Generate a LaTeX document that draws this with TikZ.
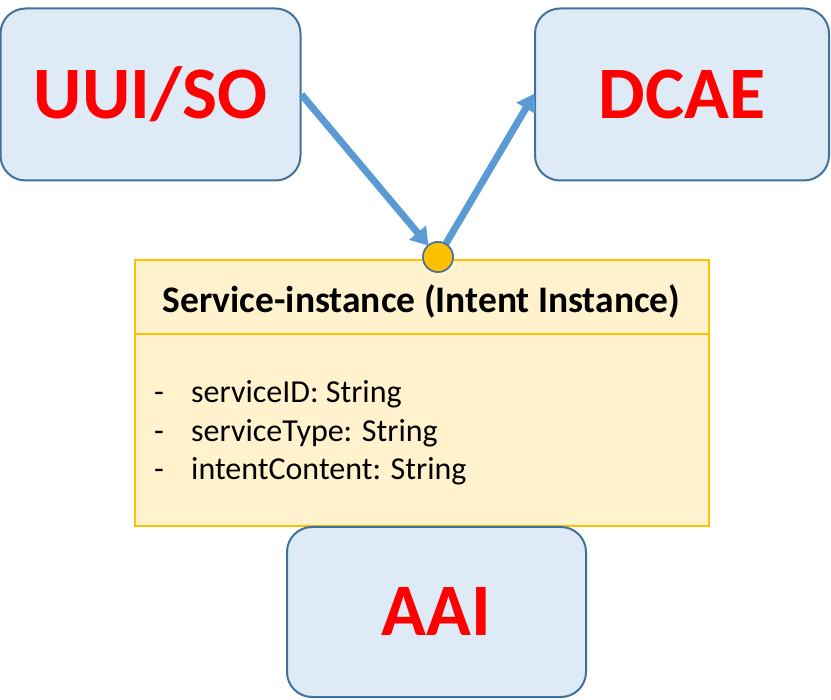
\documentclass[tikz,border=0pt]{standalone}
\usepackage{fontspec}
\setmainfont{Carlito}
\usetikzlibrary{arrows.meta}
\definecolor{compfill}{HTML}{DEEAF6}
\definecolor{compborder}{HTML}{41719C}
\definecolor{clsfill}{HTML}{FFF2CC}
\definecolor{clsborder}{HTML}{FFC000}
\definecolor{arrowblue}{HTML}{5B9BD5}
\definecolor{labelred}{HTML}{FF0000}
\tikzset{
  comp/.style={draw=compborder, fill=compfill, line width=2pt, rounded corners=25pt,
    minimum width=#1, minimum height=172pt, inner sep=0pt, text=labelred,
    font=\bfseries\fontsize{74}{74}\selectfont},
  cls/.style={draw=clsborder, fill=clsfill, line width=1.2pt, inner sep=0pt},
  flow/.style={draw=arrowblue, line width=7pt, -{Triangle[length=17pt,width=21pt]}, shorten >=-1pt},
  item/.style={inner sep=0pt, anchor=base west, font=\fontsize{32}{32}\selectfont},
  dotstyle/.style={circle, draw=compborder, fill=clsborder, line width=1.5pt, minimum size=30pt, inner sep=0pt}
}
\begin{document}
\begin{tikzpicture}[x=1pt,y=1pt]
\useasboundingbox (0,0) rectangle (831,-700);
% class box
\node[cls, minimum width=574pt, minimum height=266pt] (cls) at (422,-393) {};
\draw[draw=clsborder, line width=1.2pt] (cls.west |- 0,-334) coordinate (dl) -- (cls.east |- 0,-334) coordinate (dr);
\node[inner sep=0pt, font=\bfseries\fontsize{37.5}{37.5}\selectfont] (title) at (421.5,-301) {Service-instance (Intent Instance)};
\node[item] (f1) at (154,-403) {\makebox[37pt][l]{-}serviceID: String};
\node[item] (f2) at (154,-442) {\makebox[37pt][l]{-}serviceType: String};
\node[item] (f3) at (154,-480) {\makebox[37pt][l]{-}intentContent: String};
% components
\node[comp=300pt] (uui) at (150.5,-94.5) {UUI/SO};
\node[comp=294pt] (dcae) at (682,-94.5) {DCAE};
\node[comp=299pt, minimum height=170pt] (aai) at (436.5,-612) {AAI};
% dot and arrows
\node[dotstyle] (dot) at (438,-257) {};
\draw[flow] (uui.east) -- (dot);
\draw[flow] (dot) -- (dcae.west);
\node[dotstyle] at (dot) {};
\end{tikzpicture}
\end{document}
